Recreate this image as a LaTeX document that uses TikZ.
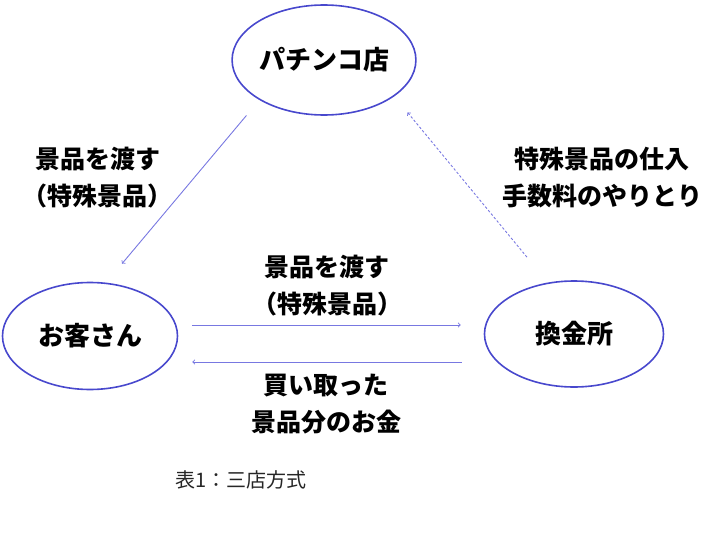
\documentclass[tikz,border=0pt]{standalone}
\usepackage{fontspec}
\setmainfont{Noto Sans CJK JP}
\usetikzlibrary{arrows}
\usetikzlibrary{shapes.geometric}

\definecolor{ringblue}{RGB}{72,72,205}
\definecolor{arrowblue}{RGB}{120,120,225}

\tikzset{
  place/.style={draw=ringblue, line width=1.6pt, ellipse, inner sep=0pt, font=\fontsize{26}{30}\selectfont\bfseries},
  flow/.style={draw=arrowblue, line width=0.9pt, ->},
  label/.style={inner sep=0.75pt, align=center, font=\fontsize{25}{37}\selectfont\bfseries}
}

\begin{document}
\begin{tikzpicture}[x=1pt,y=1pt,yscale=-1,xscale=1]
\path[use as bounding box] (0,0) rectangle (724,546); %set diagram size 724 x 546

%Shape: Ellipse [id:shop]
\node [place, minimum width=176pt, minimum height=110pt] (shop) at (324,60) {パチンコ店};
%Shape: Ellipse [id:guest]
\node [place, minimum width=175pt, minimum height=107pt] (guest) at (90,336) {お客さん};
%Shape: Ellipse [id:exchange]
\node [place, minimum width=179pt, minimum height=106pt] (exchange) at (574,334) {換金所};

%Straight Lines [id:shop-guest]
\draw [flow] ([xshift=-12pt,yshift=16pt]shop.south west) -- ([xshift=32pt,yshift=-18pt]guest.north) ;
%Straight Lines [id:exchange-shop]
\draw [flow, dash pattern={on 2.5pt off 2pt}] ([xshift=-47pt,yshift=-23pt]exchange.north) -- ([xshift=18pt,yshift=13pt]shop.south east) ;
%Straight Lines [id:guest-exchange]
\draw [flow] ([xshift=14pt,yshift=-11pt]guest.east) -- ([xshift=-23pt,yshift=-9pt]exchange.west) ;
%Straight Lines [id:exchange-guest]
\draw [flow] ([xshift=-22pt,yshift=28pt]exchange.west) -- ([xshift=14pt,yshift=26pt]guest.east) ;

% Text Node
\node [label] (giveleft) at (98,178) {景品を渡す\\（特殊景品）};
% Text Node
\node [label] (fee) at (602,178) {特殊景品の仕入\\手数料のやりとり};
% Text Node
\node [label] (givemid) at (327,286) {景品を渡す\\（特殊景品）};
% Text Node
\node [label] (money) at (326,404) {買い取った\\景品分のお金};
% Text Node
\node [anchor=west, inner sep=0pt, text=black!85, font=\fontsize{20}{24}\selectfont] (caption) at (175,480) {表1：三店方式};

\end{tikzpicture}
\end{document}
